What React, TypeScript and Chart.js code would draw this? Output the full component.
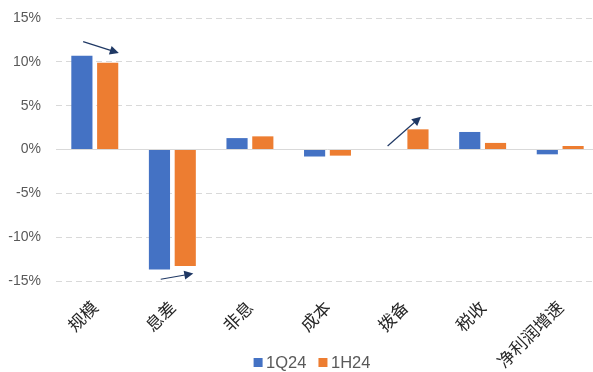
import { useEffect, useRef } from "react";
import { Chart, registerables } from "chart.js";

Chart.register(...registerables);

// Contribution breakdown by driver, in percentage points
const categories = ["规模", "息差", "非息", "成本", "拨备", "税收", "净利润增速"];
const q1Label = "1Q24";
const q1Values = [10.7, -13.7, 1.3, -0.8, 0, 2.0, -0.55];
const h1Label = "1H24";
const h1Values = [9.9, -13.3, 1.5, -0.7, 2.3, 0.75, 0.4];
const yTicks = [-15, -10, -5, 0, 5, 10, 15];

// Trend arrows, in data units: [category index, percent]
const arrowStarts = [[-0.15, 12.3], [0.85, -14.8], [3.775, 0.4]];
const arrowEnds = [[0.31, 11.0], [1.27, -14.15], [4.205, 3.75]];

const BLUE = "#4472C4";
const ORANGE = "#ED7D31";
const ARROW = "#1F3864";
const GRID = "#D9D9D9";
const LEGEND_FONT = "16.5px 'Liberation Sans', Arial, sans-serif";

const arrowPlugin = {
  id: "trendArrows",
  afterDatasetsDraw(chart: any) {
    const { ctx } = chart;
    const xs = chart.scales.x;
    const ys = chart.scales.y;
    ctx.save();
    ctx.strokeStyle = ARROW;
    ctx.fillStyle = ARROW;
    ctx.lineWidth = 1.2;
    arrowStarts.forEach((s, i) => {
      const e = arrowEnds[i];
      const x1 = xs.getPixelForValue(s[0]);
      const y1 = ys.getPixelForValue(s[1]);
      const x2 = xs.getPixelForValue(e[0]);
      const y2 = ys.getPixelForValue(e[1]);
      const ang = Math.atan2(y2 - y1, x2 - x1);
      const head = 9;
      const half = 4.5;
      const cos = Math.cos(ang);
      const sin = Math.sin(ang);
      const bx = x2 - head * cos;
      const by = y2 - head * sin;
      ctx.beginPath();
      ctx.moveTo(x1, y1);
      ctx.lineTo(bx + 2 * cos, by + 2 * sin);
      ctx.stroke();
      ctx.beginPath();
      ctx.moveTo(x2, y2);
      ctx.lineTo(bx + half * sin, by - half * cos);
      ctx.lineTo(bx - half * sin, by + half * cos);
      ctx.closePath();
      ctx.fill();
    });
    ctx.restore();
  },
};

// Bottom legend: small square swatches followed by the series names
const legendPlugin = {
  id: "bottomLegend",
  afterDraw(chart: any) {
    const { ctx } = chart;
    const box = 9;
    const gap = 3.5;
    const spacing = 12;
    const centerX = 312;
    const centerY = 362.5;
    ctx.save();
    ctx.font = LEGEND_FONT;
    const items = chart.data.datasets.map((d: any) => ({
      label: d.label,
      color: d.backgroundColor,
      w: ctx.measureText(d.label).width,
    }));
    const total =
      items.reduce((acc: number, it: any) => acc + box + gap + it.w, 0) +
      spacing * (items.length - 1);
    let x = centerX - total / 2;
    ctx.textBaseline = "middle";
    ctx.textAlign = "left";
    items.forEach((it: any) => {
      ctx.fillStyle = it.color;
      ctx.fillRect(x, centerY - box / 2, box, box);
      x += box + gap;
      ctx.fillStyle = "#595959";
      ctx.fillText(it.label, x, centerY + 0.5);
      x += it.w + spacing;
    });
    ctx.restore();
  },
};

export default function App() {
  const canvasRef = useRef<HTMLCanvasElement>(null);

  useEffect(() => {
    document.body.style.margin = "0";
    const canvas = canvasRef.current;
    if (!canvas) return;
    const chart = new Chart(canvas, {
      type: "bar",
      data: {
        labels: categories,
        datasets: [
          {
            label: q1Label,
            data: q1Values,
            backgroundColor: BLUE,
            categoryPercentage: 0.665,
            barPercentage: 0.82,
          },
          {
            label: h1Label,
            data: h1Values,
            backgroundColor: ORANGE,
            categoryPercentage: 0.665,
            barPercentage: 0.82,
          },
        ],
      },
      options: {
        animation: false,
        responsive: true,
        maintainAspectRatio: false,
        layout: { padding: { top: 18, right: 0, left: 0, bottom: 0 } },
        plugins: {
          legend: { display: false },
          tooltip: { enabled: false },
        },
        scales: {
          x: {
            grid: { display: false },
            border: { display: false },
            ticks: {
              minRotation: 45,
              maxRotation: 45,
              padding: 8,
              color: "#262626",
              font: { family: "'Noto Sans CJK SC', sans-serif", size: 17 },
            },
            afterFit(scale: any) {
              scale.height = 91;
              scale.paddingLeft = 0;
              scale.paddingRight = 0;
            },
          },
          y: {
            min: -15,
            max: 15,
            afterBuildTicks(scale: any) {
              scale.ticks = yTicks.map((v) => ({ value: v }));
            },
            afterFit(scale: any) {
              scale.width = 56;
              scale.paddingTop = 0;
              scale.paddingBottom = 0;
            },
            border: {
              display: false,
              dash: (ctx: any) => (ctx.tick && ctx.tick.value === 0 ? [] : [6, 4]),
            },
            grid: {
              color: GRID,
              lineWidth: 1,
              drawTicks: false,
            },
            ticks: {
              padding: 15,
              color: "#595959",
              font: { family: "'Liberation Sans', Arial, sans-serif", size: 14 },
              callback: (v: any) => `${v}%`,
            },
          },
        },
      },
      plugins: [arrowPlugin, legendPlugin],
    });
    return () => chart.destroy();
  }, []);

  // The plot runs slightly past the right edge of the visible frame
  return (
    <div style={{ width: 593, height: 372, overflow: "hidden" }}>
      <div style={{ position: "relative", width: 599, height: 372 }}>
        <canvas ref={canvasRef} />
      </div>
    </div>
  );
}
